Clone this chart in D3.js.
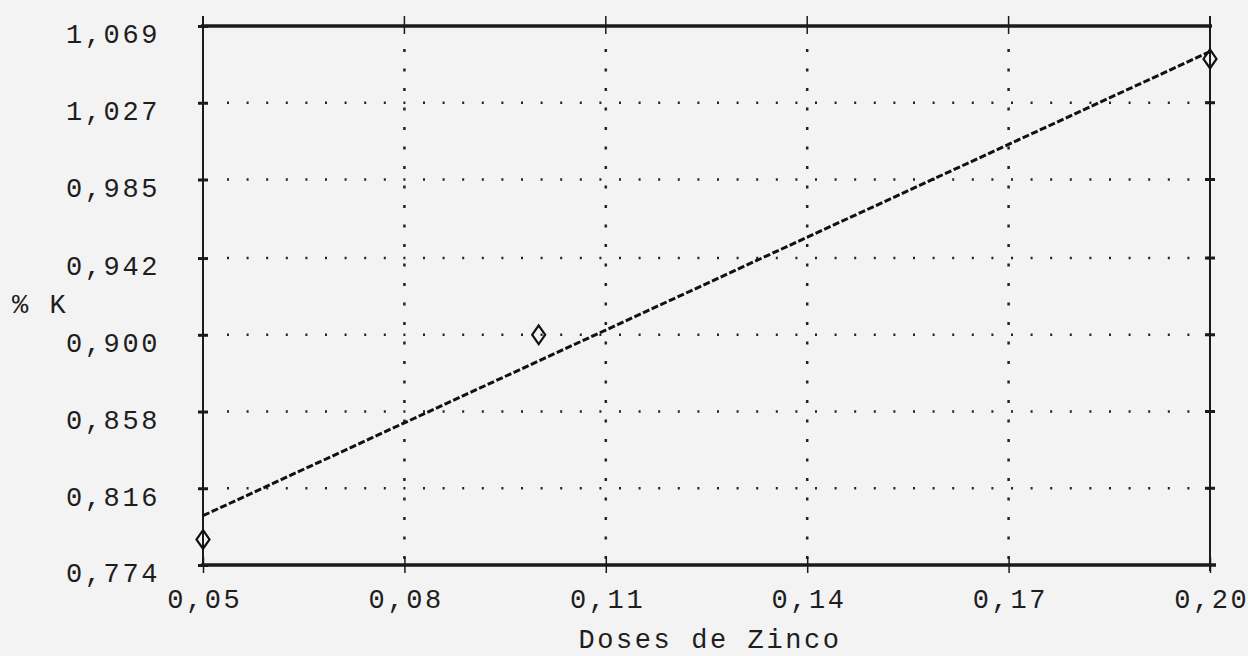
<!DOCTYPE html>
<html>
<head>
<meta charset="utf-8">
<script src="https://cdn.jsdelivr.net/npm/d3@7"></script>
<style>
  body { margin: 0; background: #f3f3f3; }
  svg text { font-family: "Liberation Mono", "DejaVu Sans Mono", monospace; fill: #1e1e1e; }
</style>
</head>
<body>
<div id="chart"></div>
<script>
// Data
var doses = [0.05, 0.10, 0.20];
var potassium = [0.788, 0.900, 1.051];
var fitDoses = [0.05, 0.20];
var fitPotassium = [0.801, 1.055];
var xTicks = [0.05, 0.08, 0.11, 0.14, 0.17, 0.20];
var xTickLabels = ["0,05", "0,08", "0,11", "0,14", "0,17", "0,20"];
var yTicks = [0.774, 0.816, 0.858, 0.900, 0.942, 0.985, 1.027, 1.069];
var yTickLabels = ["0,774", "0,816", "0,858", "0,900", "0,942", "0,985", "1,027", "1,069"];

var svgWidth = 1248;
var svgHeight = 656;

var svg = d3.select("#chart")
    .append("svg")
    .attr("width", svgWidth)
    .attr("height", svgHeight);

var margin = { top: 26, bottom: 91, left: 203, right: 38 };
var width = svgWidth - margin.left - margin.right;
var height = svgHeight - margin.top - margin.bottom;

var chartGroup = svg.append("g")
    .attr("transform", `translate(${margin.left}, ${margin.top})`);

var xScale = d3.scaleLinear().domain([0.05, 0.20]).range([0, width]);
var yScale = d3.scaleLinear().domain([0.774, 1.069]).range([height, 0]);

// dotted grid
chartGroup.append("g")
    .selectAll("line")
    .data(yTicks.slice(1, -1))
    .enter()
    .append("line")
    .attr("x1", 24).attr("x2", width)
    .attr("y1", d => yScale(d)).attr("y2", d => yScale(d))
    .attr("stroke", "#222")
    .attr("stroke-width", 2.5)
    .attr("stroke-dasharray", "2,17.6");

chartGroup.append("g")
    .selectAll("line")
    .data(xTicks.slice(1, -1))
    .enter()
    .append("line")
    .attr("x1", d => xScale(d)).attr("x2", d => xScale(d))
    .attr("y1", 23).attr("y2", height)
    .attr("stroke", "#222")
    .attr("stroke-width", 2.5)
    .attr("stroke-dasharray", "3,16.5");

// frame: thick top/bottom, thinner sides
chartGroup.append("line")
    .attr("x1", -2).attr("x2", width + 2).attr("y1", 0).attr("y2", 0)
    .attr("stroke", "#1a1a1a").attr("stroke-width", 3.5);
chartGroup.append("line")
    .attr("x1", -2).attr("x2", width + 6).attr("y1", height).attr("y2", height)
    .attr("stroke", "#1a1a1a").attr("stroke-width", 3.5);
chartGroup.append("line")
    .attr("x1", 0).attr("x2", 0).attr("y1", -10).attr("y2", height)
    .attr("stroke", "#1a1a1a").attr("stroke-width", 2);
chartGroup.append("line")
    .attr("x1", width).attr("x2", width).attr("y1", -10).attr("y2", height + 6)
    .attr("stroke", "#1a1a1a").attr("stroke-width", 2);

// left axis: tick marks across the line, labels sit a little below their tick
var leftAxis = d3.axisLeft(yScale).tickValues(yTicks).tickFormat((d, i) => yTickLabels[i])
    .tickSizeInner(5).tickSizeOuter(0).tickPadding(38);
var yAxisG = chartGroup.append("g").call(leftAxis);
yAxisG.select(".domain").remove();
yAxisG.selectAll(".tick line").attr("x2", 5).attr("x1", -5).attr("stroke", "#1a1a1a").attr("stroke-width", 3);
yAxisG.selectAll(".tick text")
    .attr("font-size", 27)
    .attr("letter-spacing", 2.6)
    .attr("dy", "0.62em");

chartGroup.append("g")
    .selectAll("line")
    .data(yTicks.slice(1, -1))
    .enter()
    .append("line")
    .attr("x1", width - 5).attr("x2", width + 5)
    .attr("y1", d => yScale(d)).attr("y2", d => yScale(d))
    .attr("stroke", "#1a1a1a").attr("stroke-width", 3);

chartGroup.append("g")
    .selectAll("line")
    .data(xTicks.slice(1))
    .enter()
    .append("line")
    .attr("x1", d => xScale(d)).attr("x2", d => xScale(d))
    .attr("y1", -10).attr("y2", 8)
    .attr("stroke", "#1a1a1a").attr("stroke-width", 1.5);

var bottomAxis = d3.axisBottom(xScale).tickValues(xTicks).tickFormat((d, i) => xTickLabels[i])
    .tickSizeInner(8).tickSizeOuter(0).tickPadding(16);
var xAxisG = chartGroup.append("g")
    .attr("transform", `translate(0, ${height})`)
    .call(bottomAxis);
xAxisG.select(".domain").remove();
xAxisG.selectAll(".tick line").attr("y1", -8).attr("stroke", "#1a1a1a").attr("stroke-width", 1.5);
xAxisG.selectAll(".tick text")
    .attr("font-size", 27)
    .attr("letter-spacing", 2.6)
    .attr("dx", 1.3)
    .attr("fill", "#1e1e1e");

// fitted line, drawn as a run of short dashes
var line = d3.line().x(d => xScale(d[0])).y(d => yScale(d[1]));
chartGroup.append("path")
    .datum(d3.zip(fitDoses, fitPotassium))
    .attr("d", line)
    .attr("fill", "none")
    .attr("stroke", "#111")
    .attr("stroke-width", 3)
    .attr("stroke-dasharray", "7,2.5");

// observed points as open diamonds
chartGroup.append("g")
    .selectAll("path")
    .data(d3.zip(doses, potassium))
    .enter()
    .append("path")
    .attr("transform", d => `translate(${xScale(d[0])}, ${yScale(d[1])}) scale(1.45, 1.2)`)
    .attr("d", d3.symbol().type(d3.symbolDiamond).size(70))
    .attr("fill", "none")
    .attr("stroke", "#111")
    .attr("stroke-width", 1.6);

// axis labels
svg.append("text")
    .attr("x", 12)
    .attr("y", 313)
    .attr("font-size", 27)
    .attr("letter-spacing", 2.6)
    .text("% K");

svg.append("text")
    .attr("x", 710)
    .attr("y", 648)
    .attr("text-anchor", "middle")
    .attr("font-size", 27)
    .attr("letter-spacing", 2.6)
    .text("Doses de Zinco");
</script>
</body>
</html>
